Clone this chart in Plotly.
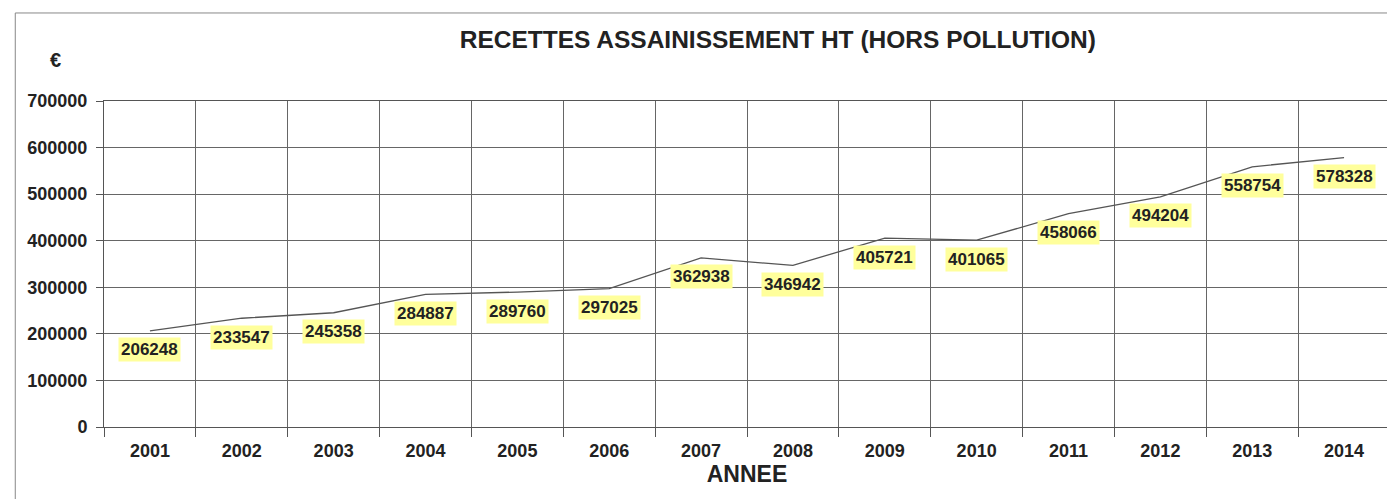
import plotly.graph_objects as go

years = ["2001", "2002", "2003", "2004", "2005", "2006", "2007",
         "2008", "2009", "2010", "2011", "2012", "2013", "2014"]
recettes = [206248, 233547, 245358, 284887, 289760, 297025, 362938,
            346942, 405721, 401065, 458066, 494204, 558754, 578328]
y_ticks = [0, 100000, 200000, 300000, 400000, 500000, 600000, 700000]

FONT = "Liberation Sans, Arial"

fig = go.Figure()
fig.add_trace(go.Scatter(
    x=years, y=recettes, mode="lines",
    line=dict(color="#555555", width=1.3),
    hoverinfo="x+y", showlegend=False,
))

for i, v in enumerate(recettes):
    fig.add_annotation(
        x=i, y=v, xref="x", yref="y", text=f"<b>{v}</b>", showarrow=False,
        yshift=-19, bgcolor="#ffff9c",
        font=dict(family=FONT, size=17, color="#222222"),
        borderpad=2,
    )

# page is offset by the 8px body margin; size compensates
fig.update_layout(
    width=1387, height=491,
    margin=dict(l=96, r=5, t=93, b=72),
    paper_bgcolor="white", plot_bgcolor="white",
    font=dict(family=FONT, color="#222222"),
    title=dict(
        text="<b>RECETTES ASSAINISSEMENT HT (HORS POLLUTION)</b>",
        x=0.555, xanchor="center", y=0.935, yanchor="middle",
        font=dict(size=24.5, color="#222222"),
    ),
    xaxis=dict(
        type="category", tickson="boundaries",
        showgrid=True, gridcolor="#666666", gridwidth=1,
        showline=True, linecolor="#555555", mirror=True,
        ticks="outside", ticklen=9, tickcolor="#555555",
        tickfont=dict(size=18, color="#222222", family=FONT),
        tickprefix="<b>", ticksuffix="</b>", ticklabelstandoff=7,
        title=dict(text="<b>ANNEE</b>", font=dict(size=23), standoff=3),
        range=[-0.5, 13.5], fixedrange=True,
    ),
    yaxis=dict(
        range=[0, 700000], tickvals=y_ticks,
        ticktext=[f"<b>{t}</b>" for t in y_ticks],
        showgrid=True, gridcolor="#666666", gridwidth=1,
        showline=True, linecolor="#555555", mirror=True,
        ticks="outside", ticklen=7, tickcolor="#555555",
        tickfont=dict(size=18, color="#222222", family=FONT),
        ticklabelstandoff=5,
        zeroline=False,
    ),
)

fig.add_annotation(
    text="<b>€</b>", xref="paper", yref="paper",
    x=-0.038, y=1.125, xanchor="center", yanchor="middle", showarrow=False,
    font=dict(size=20, color="#222222"),
)

fig.add_shape(
    type="rect", xref="paper", yref="paper",
    x0=-0.069, x1=1.0025, y0=-0.3, y1=1.27,
    line=dict(color="#888888", width=1),
)

fig.write_html("out.html")
